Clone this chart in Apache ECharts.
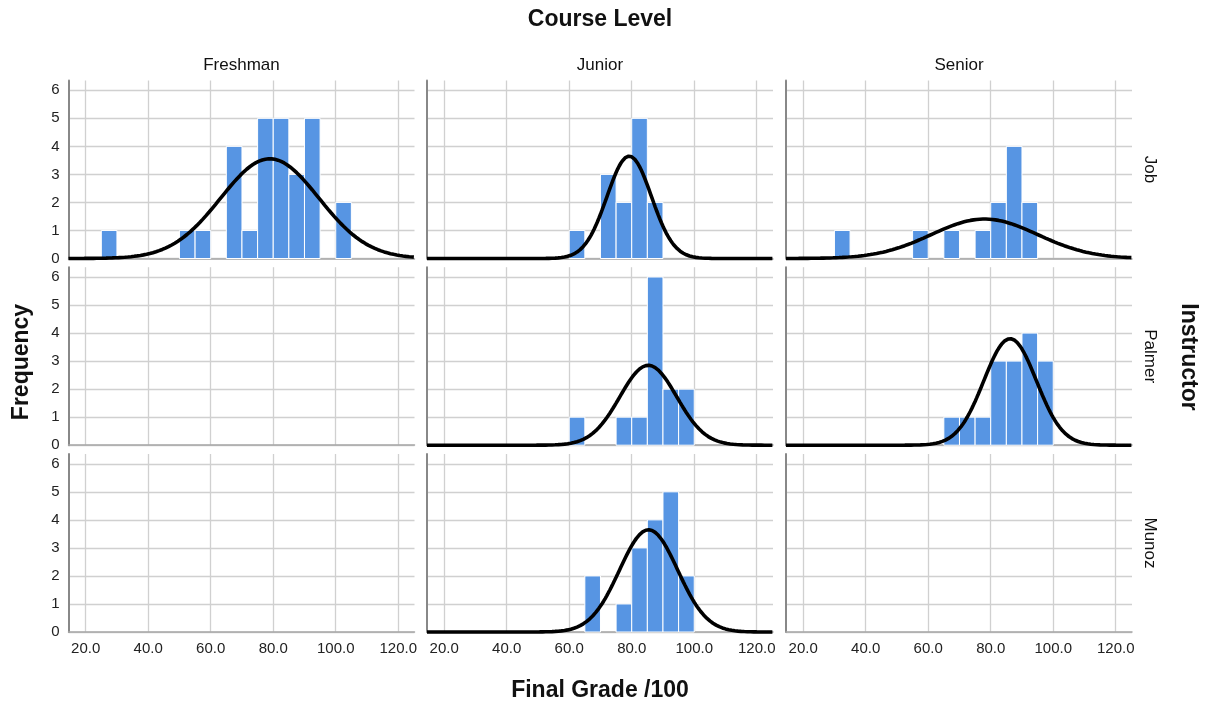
<!DOCTYPE html>
<html>
<head>
<meta charset="utf-8">
<script src="https://cdn.jsdelivr.net/npm/echarts@6/dist/echarts.min.js"></script>
<style>
html,body{margin:0;padding:0;background:#fff;}
#chart{width:1211px;height:707px;}
</style>
</head>
<body>
<div id="chart"></div>
<script>
// ---- data ----
const courseLevels = ['Freshman', 'Junior', 'Senior'];
const instructors = ['Job', 'Palmer', 'Munoz'];
const binStart = [25, 30, 35, 40, 45, 50, 55, 60, 65, 70, 75, 80, 85, 90, 95, 100];
const binWidth = 5;
const xTicks = [20, 40, 60, 80, 100, 120];
const yTicks = [0, 1, 2, 3, 4, 5, 6];

const jobFreshman    = [1, 0, 0, 0, 0, 1, 1, 0, 4, 1, 5, 5, 3, 5, 0, 2];
const jobJunior      = [0, 0, 0, 0, 0, 0, 0, 1, 0, 3, 2, 5, 2, 0, 0, 0];
const jobSenior      = [0, 1, 0, 0, 0, 0, 1, 0, 1, 0, 1, 2, 4, 2, 0, 0];
const palmerFreshman = null;
const palmerJunior   = [0, 0, 0, 0, 0, 0, 0, 1, 0, 0, 1, 1, 6, 2, 2, 0];
const palmerSenior   = [0, 0, 0, 0, 0, 0, 0, 0, 1, 1, 1, 3, 3, 4, 3, 0];
const munozFreshman  = null;
const munozJunior    = [0, 0, 0, 0, 0, 0, 0, 0, 2, 0, 1, 3, 4, 5, 2, 0];
const munozSenior    = null;

// fitted normal curve parameters (mean, std. dev.) per panel
const jobMean    = [78.9, 79.2, 78.0];
const jobSD      = [15.7, 7.1, 17.0];
const palmerMean = [null, 85.3, 86.2];
const palmerSD   = [null, 9.1, 8.4];
const munozMean  = [null, 85.4, null];
const munozSD    = [null, 9.3, null];

const panelCounts = [
  [jobFreshman, jobJunior, jobSenior],
  [palmerFreshman, palmerJunior, palmerSenior],
  [munozFreshman, munozJunior, munozSenior]
];
const panelMean = [jobMean, palmerMean, munozMean];
const panelSD = [jobSD, palmerSD, munozSD];

// ---- layout ----
const xMin = 14.5, xMax = 125.2, yMax = 6.35;
const colLeft = [68.5, 427, 786];
const rowTop = [80.5, 267.2, 454];
const gridW = 346, gridH = 178;
const FONT = '"Liberation Sans", Arial, sans-serif';
const barColor = '#5795e3';

const grids = [], xAxes = [], yAxes = [], series = [];
let idx = 0;
for (let r = 0; r < 3; r++) {
  for (let c = 0; c < 3; c++) {
    grids.push({ left: colLeft[c], top: rowTop[r], width: gridW, height: gridH, containLabel: false });
    xAxes.push({
      type: 'value', gridIndex: idx, min: xMin, max: xMax,
      axisLine: { show: true, onZero: false, lineStyle: { color: '#a6a6a6', width: 1.5 } },
      axisTick: { show: false, customValues: xTicks },
      splitLine: { show: true, lineStyle: { color: '#d0d0d0', width: 1.3 } },
      axisLabel: {
        show: r === 2, customValues: xTicks, margin: 9,
        color: '#222', fontSize: 15, fontFamily: FONT,
        formatter: v => Number(v).toFixed(1)
      }
    });
    yAxes.push({
      type: 'value', gridIndex: idx, min: 0, max: yMax,
      axisLine: { show: true, lineStyle: { color: '#888', width: 2 } },
      axisTick: { show: false, customValues: yTicks },
      splitLine: { show: true, lineStyle: { color: '#d0d0d0', width: 1.3 } },
      axisLabel: {
        show: c === 0, customValues: yTicks, margin: 9,
        color: '#222', fontSize: 15, fontFamily: FONT
      }
    });
    const counts = panelCounts[r][c];
    if (counts) {
      const barData = [];
      binStart.forEach((b, i) => { if (counts[i] > 0) barData.push([b, b + binWidth, counts[i]]); });
      series.push({
        type: 'custom', xAxisIndex: idx, yAxisIndex: idx, z: 2,
        data: barData,
        renderItem: function (params, api) {
          const p0 = api.coord([api.value(0), 0]);
          const p1 = api.coord([api.value(1), api.value(2)]);
          return {
            type: 'rect',
            shape: { x: p0[0], y: p1[1], width: p1[0] - p0[0], height: p0[1] - p1[1] },
            style: { fill: barColor, stroke: '#ffffff', lineWidth: 1 }
          };
        }
      });
      const n = counts.reduce((a, b) => a + b, 0);
      const m = panelMean[r][c], s = panelSD[r][c];
      const curve = [];
      for (let x = xMin; x <= xMax + 1e-9; x += 0.5) {
        const y = n * binWidth / (s * Math.sqrt(2 * Math.PI)) * Math.exp(-((x - m) * (x - m)) / (2 * s * s));
        curve.push([x, y]);
      }
      series.push({
        type: 'line', xAxisIndex: idx, yAxisIndex: idx, z: 3,
        data: curve, showSymbol: false, symbol: 'none', smooth: false,
        lineStyle: { color: '#000', width: 3.6 }, silent: true, clip: false
      });
    }
    idx++;
  }
}

const texts = [];
function addText(str, x, y, size, bold, rot) {
  texts.push({
    type: 'text', x: x, y: y, rotation: rot || 0,
    style: {
      text: str, fontSize: size, fontWeight: bold ? 'bold' : 'normal',
      fontFamily: FONT, fill: '#111', align: 'center', verticalAlign: 'middle'
    }
  });
}
addText('Course Level', 600, 20, 23, true);
courseLevels.forEach((name, c) => addText(name, colLeft[c] + gridW / 2, 65, 17, false));
instructors.forEach((name, r) => addText(name, 1150, rowTop[r] + gridH / 2, 17, false, -Math.PI / 2));
addText('Frequency', 22, 362, 23, true, Math.PI / 2);
addText('Instructor', 1188, 357, 23, true, -Math.PI / 2);
addText('Final Grade /100', 600, 691, 23, true);

const chart = echarts.init(document.getElementById('chart'), null, { renderer: 'canvas' });
chart.setOption({
  backgroundColor: '#fff',
  animation: false,
  grid: grids,
  xAxis: xAxes,
  yAxis: yAxes,
  series: series,
  graphic: texts
});
</script>
</body>
</html>
